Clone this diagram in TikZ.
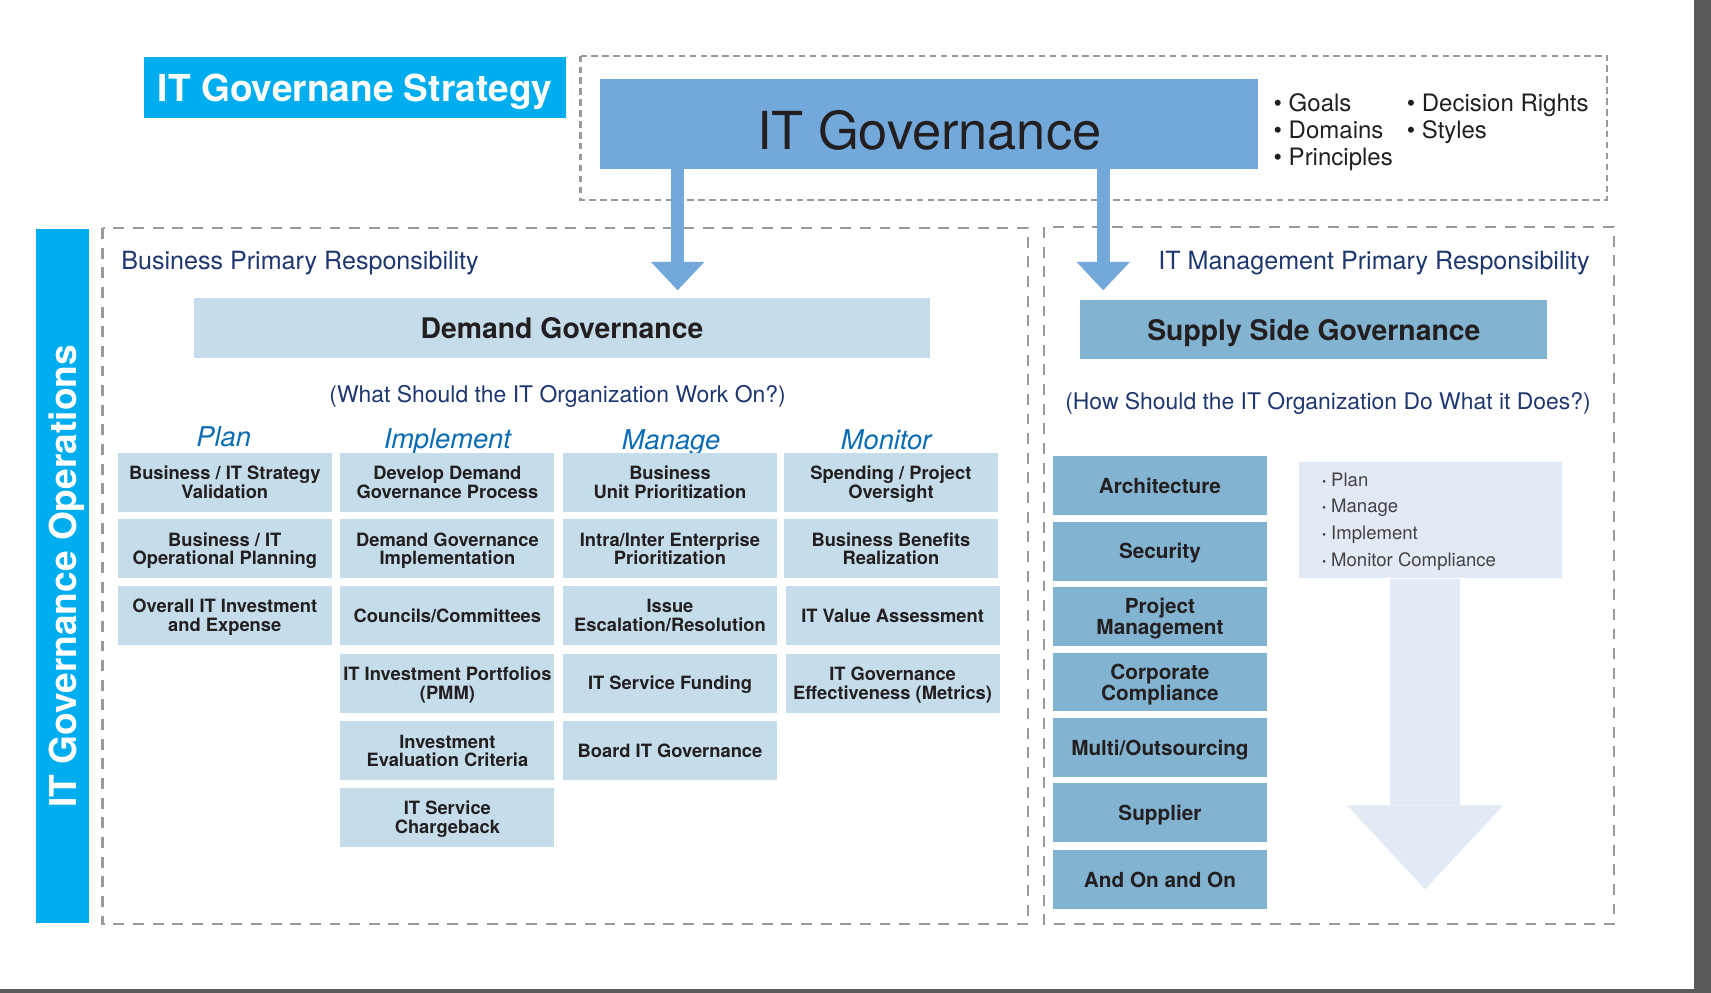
\documentclass[tikz,border=0pt]{standalone}
\usepackage{fontspec}
\setmainfont{TeX Gyre Heros}
\usetikzlibrary{arrows.meta}
\definecolor{cyanbar}{HTML}{00AEEF}
\definecolor{govblue}{HTML}{72A8DA}
\definecolor{cellblue}{HTML}{C5DDEA}
\definecolor{supblue}{HTML}{82B3D1}
\definecolor{lightarr}{HTML}{E2EAF5}
\definecolor{navytext}{HTML}{1F3770}
\definecolor{hdrblue}{HTML}{0B6DB5}
\definecolor{darktext}{HTML}{231F20}
\definecolor{dashgray}{HTML}{9A9A9A}
\definecolor{bandgray}{HTML}{5A5A5A}
\newcommand{\fs}[1]{\fontsize{#1}{#1}\selectfont}
\tikzset{
  cell/.style={fill=cellblue, minimum width=196pt, minimum height=54pt, inner sep=0pt, align=center, text=darktext, text depth=0pt, font=\fontsize{16.8}{17}\selectfont\bfseries},
  supcell/.style={fill=supblue, minimum width=196pt, minimum height=54pt, inner sep=0pt, align=center, text=darktext, text depth=0pt, font=\fontsize{19}{19.5}\selectfont\bfseries},
  colhdr/.style={text=hdrblue, inner sep=0pt, text depth=0pt, font=\fontsize{25}{25}\selectfont\itshape},
  dashbox/.style={draw=dashgray, line width=2.2pt, dash pattern=on 10pt off 8pt},
  dashboxfine/.style={draw=dashgray, line width=2pt, dash pattern=on 6pt off 4pt},
  govarrow/.style={draw=govblue, line width=12pt, -{Triangle[width=49pt,length=26pt,line width=0pt]}},
  bigarrow/.style={draw=lightarr, line width=64pt, -{Triangle[width=143pt,length=77pt,line width=0pt]}},
  navylabel/.style={text=navytext, inner sep=0pt, text depth=0pt},
}
\begin{document}
\begin{tikzpicture}[x=1pt,y=-1pt]
\useasboundingbox (0,0) rectangle (1568,910);
\fill[white] (0,0) rectangle (1568,910);
% frame band
\fill[bandgray] (1552,0) rectangle (1568,910);
\fill[bandgray] (0,906) rectangle (1568,910);

% top dashed box
\draw[dashboxfine] (532,51) rectangle (1473,183);
% lower dashed boxes
\draw[dashbox] (94,209) rectangle (942,847);
\draw[dashbox] (957,208) rectangle (1479,847);

% strategy label
\node[fill=cyanbar, minimum width=387pt, minimum height=56pt, inner sep=0pt, text=white, text depth=0pt, font=\fs{34}\bfseries] (strat) at (325.5,80) {IT Governane Strategy};

% IT Governance box
\node[fill=govblue, minimum width=603pt, minimum height=83pt, inner sep=0pt, text=darktext, text height=47pt, text depth=0pt, font=\fs{48}] (itg) at (851.5,113.5) {IT Governance};

% top bullets
\node[anchor=north west, align=left, inner sep=0pt, text=darktext, font=\fontsize{22}{24.5}\selectfont] (bl1) at (1167,86) {• Goals\\• Domains\\• Principles};
\node[anchor=north west, align=left, inner sep=0pt, text=darktext, font=\fontsize{22}{24.5}\selectfont] (bl2) at (1289,86) {• Decision Rights\\• Styles};

% arrows from IT Governance
\coordinate (tipL) at (621,266);
\coordinate (tipR) at (1011,266);
\draw[govarrow] (itg.south -| tipL) -- (tipL);
\draw[govarrow] (itg.south -| tipR) -- (tipR);

% vertical operations bar
\node[fill=cyanbar, rotate=90, minimum width=636pt, minimum height=49pt, inner sep=0pt, text=white, text depth=0pt, font=\fs{34}\bfseries] (ops) at (57.5,528) {IT Governance Operations};

% section labels
\node[navylabel, anchor=west, font=\fs{23}] (bpr) at (111,239) {Business Primary Responsibility};
\node[navylabel, anchor=east, font=\fs{23}] (impr) at (1457,239) {IT Management Primary Responsibility};

% demand governance
\node[fill=cellblue, minimum width=674pt, minimum height=55pt, inner sep=0pt, text=darktext, text depth=0pt, font=\fs{26}\bfseries] (dg) at (515,300.5) {Demand Governance};
\node[navylabel, font=\fs{21}] (dgq) at (511,361) {(What Should the IT Organization Work On?)};

% supply side governance
\node[fill=supblue, minimum width=428pt, minimum height=54pt, inner sep=0pt, text=darktext, text depth=0pt, font=\fs{26}\bfseries] (ssg) at (1204,302) {Supply Side Governance};
\node[navylabel, font=\fs{21}] (ssq) at (1217,367) {(How Should the IT Organization Do What it Does?)};

% column headers
\node[colhdr] (hplan) at (205,400) {Plan};
\node[colhdr] (himp) at (410,402) {Implement};
\node[colhdr] (hman) at (615,403) {Manage};
\node[colhdr] (hmon) at (812,403) {Monitor};

% Plan column
\node[cell] (p1) at (206,442) {Business / IT Strategy\\Validation};
\node[cell] (p2) at (206,503) {Business / IT\\Operational Planning};
\node[cell] (p3) at (206,564) {Overall IT Investment\\and Expense};
% Implement column
\node[cell] (i1) at (410,442) {Develop Demand\\Governance Process};
\node[cell] (i2) at (410,503) {Demand Governance\\Implementation};
\node[cell] (i3) at (410,564) {Councils/Committees};
\node[cell] (i4) at (410,626) {IT Investment Portfolios\\(PMM)};
\node[cell] (i5) at (410,688) {Investment\\Evaluation Criteria};
\node[cell] (i6) at (410,749) {IT Service\\Chargeback};
% Manage column
\node[cell] (m1) at (614,442) {Business\\Unit Prioritization};
\node[cell] (m2) at (614,503) {Intra/Inter Enterprise\\Prioritization};
\node[cell] (m3) at (614,564) {Issue\\Escalation/Resolution};
\node[cell] (m4) at (614,626) {IT Service Funding};
\node[cell] (m5) at (614,688) {Board IT Governance};
% Monitor column
\node[cell] (n1) at (816.5,442) {Spending / Project\\Oversight};
\node[cell] (n2) at (816.5,503) {Business Benefits\\Realization};
\node[cell] (n3) at (818,564) {IT Value Assessment};
\node[cell] (n4) at (818,626) {IT Governance\\Effectiveness (Metrics)};

% Supply column
\node[supcell] (s1) at (1063,445) {Architecture};
\node[supcell] (s2) at (1063,505) {Security};
\node[supcell] (s3) at (1063,565) {Project\\Management};
\node[supcell] (s4) at (1063,625) {Corporate\\Compliance};
\node[supcell] (s5) at (1063,685) {Multi/Outsourcing};
\node[supcell] (s6) at (1063,745) {Supplier};
\node[supcell] (s7) at (1063,806) {And On and On};

% light box with big arrow
\coordinate (bigtip) at (1306,815);
\node[fill=lightarr, minimum width=241pt, minimum height=107pt, inner sep=0pt] (lb) at (1310.5,476.5) {};
\draw[bigarrow] (lb.south -| bigtip) -- (bigtip);
\node[anchor=north west, align=left, inner sep=0pt, text=darktext!85, font=\fontsize{17}{24.5}\selectfont] (lbt) at (1211,433) {\textbf{·}\hspace{4pt}Plan\\\textbf{·}\hspace{4pt}Manage\\\textbf{·}\hspace{4pt}Implement\\\textbf{·}\hspace{4pt}Monitor Compliance};
\end{tikzpicture}
\end{document}
